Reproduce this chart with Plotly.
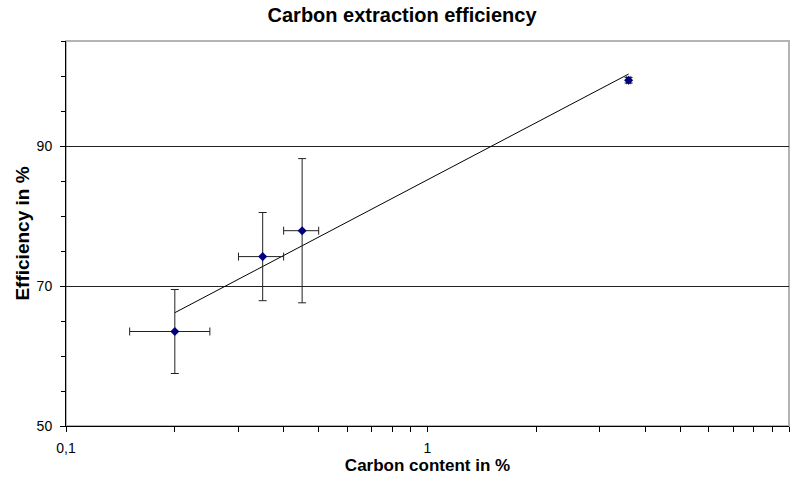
import numpy as np
import plotly.graph_objects as go

# Data
carbon_content = [0.2, 0.35, 0.45, 3.6]          # x, %
efficiency = [63.5, 74.2, 77.9, 99.4]            # y, %
carbon_err = [0.05, 0.05, 0.05, 0.05]
efficiency_err = [6.0, 6.3, 10.3, 0.4]

x_tick_vals = [0.1, 1, 10]
x_tick_text = ["0,1", "1", "10"]
y_tick_vals = [50, 70, 90]

# logarithmic trendline y = a + b*log10(x)
b, a = np.polyfit(np.log10(carbon_content), efficiency, 1)
trend_x = np.logspace(np.log10(min(carbon_content)), np.log10(max(carbon_content)), 50)
trend_y = a + b * np.log10(trend_x)

minor_x = [m * 10.0 ** d for d in (-1, 0) for m in range(2, 10)]
all_x_ticks = sorted(x_tick_vals + minor_x)
all_x_text = [x_tick_text[x_tick_vals.index(v)] if v in x_tick_vals else "" for v in all_x_ticks]

fig = go.Figure()
fig.add_trace(go.Scatter(
    x=trend_x, y=trend_y, mode="lines",
    line=dict(color="black", width=1), hoverinfo="skip", showlegend=False))
fig.add_trace(go.Scatter(
    x=carbon_content, y=efficiency, mode="markers",
    marker=dict(symbol="diamond", size=7, color="#000080"),
    error_y=dict(type="data", array=efficiency_err, color="#222222", thickness=1, width=4),
    error_x=dict(type="data", array=carbon_err, color="#222222", thickness=1, width=4),
    showlegend=False))

fig.update_layout(
    width=795, height=481,
    margin=dict(l=66, r=6, t=41, b=55, autoexpand=False),
    paper_bgcolor="white", plot_bgcolor="white",
    font=dict(family="Liberation Sans, Arial, sans-serif", color="black", size=14),
    separators=",.",
    title=dict(text="<b>Carbon extraction efficiency</b>", x=0.5057, xanchor="center",
               y=0.968, yanchor="middle", font=dict(size=20)),
    shapes=[dict(type="rect", xref="paper", yref="paper", x0=0, y0=0, x1=1, y1=1,
                 line=dict(color="#b4b4b4", width=2), layer="below")],
)
fig.update_xaxes(
    type="log", range=[-1, 1], automargin=False,
    tickvals=all_x_ticks, ticktext=all_x_text,
    ticks="outside", ticklen=5, tickcolor="black", ticklabelstandoff=4,
    showline=True, linecolor="black", linewidth=1,
    showgrid=False, zeroline=False,
    title=dict(text="<b>Carbon content in %</b>", font=dict(size=17), standoff=4),
    tickfont=dict(size=14),
)
fig.update_yaxes(
    range=[50, 105], tickvals=y_tick_vals, automargin=False,
    ticks="outside", ticklen=5, tickcolor="black", ticklabelstandoff=5,
    minor=dict(dtick=5, tick0=50, ticks="outside", ticklen=4, tickcolor="black", showgrid=False),
    showline=True, linecolor="black", linewidth=1,
    showgrid=True, gridcolor="#222222", gridwidth=1, zeroline=False,
    title=dict(text="<b>Efficiency in %</b>", font=dict(size=19), standoff=1),
    tickfont=dict(size=14),
)

fig.write_html("out.html", config={"displayModeBar": False},
               post_script="document.body.style.margin='0';document.body.style.padding='0';")
